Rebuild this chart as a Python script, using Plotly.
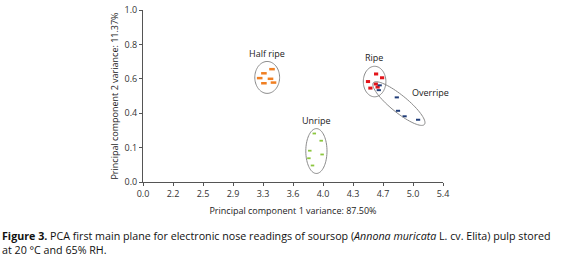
import numpy as np
import plotly.graph_objects as go

# Tick labels (evenly spaced on the original chart)
x_tick_labels = ["0.0", "2.2", "2.5", "2.9", "3.3", "3.6", "4.0", "4.3", "4.7", "5.0", "5.4"]
y_tick_labels = ["0.0", "0.1", "0.4", "0.6", "0.8", "1.0"]

# Point positions in tick-index units
half_x = [4.30, 4.03, 3.89, 4.25, 4.03, 4.35]
half_y = [3.28, 3.16, 3.02, 3.00, 2.87, 2.89]
unripe_x = [5.71, 5.94, 5.56, 5.97, 5.53, 5.65]
unripe_y = [1.41, 1.20, 0.91, 0.80, 0.69, 0.48]
ripe_x = [7.77, 7.50, 7.97, 7.76, 7.58, 7.82]
ripe_y = [3.14, 2.92, 3.03, 2.85, 2.73, 2.76]
over_x = [7.89, 7.86, 8.46, 8.50, 8.72, 9.17]
over_y = [2.81, 2.67, 2.46, 2.07, 1.91, 1.81]

series_names = ["Half ripe", "Unripe", "Ripe", "Overripe"]
series_colors = ["#f07f22", "#8cc63e", "#e3151b", "#1f3c78"]
label_x = [4.14, 5.77, 7.70, 9.58]
label_y = [3.75, 1.78, 3.62, 2.61]

# Group ellipses: center x, center y (index units), semi axes (px), angle (deg)
ell_cx = [4.14, 5.78, 7.72, 8.53]
ell_cy = [3.04, 0.90, 2.92, 2.28]
ell_a = [12.4, 10.6, 11.3, 33.0]
ell_b = [16.0, 22.5, 15.3, 8.5]
ell_ang = [0, 0, 0, -39.3]

W, H = 564, 257
ML, MR, MT, MB = 143, 121, 9.5, 75
pw, ph = W - ML - MR, H - MT - MB
XR, YR = 10, 5
sx, sy = pw / XR, ph / YR

fig = go.Figure()
groups = [(half_x, half_y), (unripe_x, unripe_y), (ripe_x, ripe_y), (over_x, over_y)]
msizes = [4, 2.5, 3, 3]
mwidths = [2.5, 1.8, 3, 2]
for (gx, gy), name, col, ms, mw in zip(groups, series_names, series_colors, msizes, mwidths):
    fig.add_trace(go.Scatter(
        x=gx, y=gy, mode="markers", name=name,
        marker=dict(symbol="line-ew", size=ms, line=dict(color=col, width=mw)),
        showlegend=False, hoverinfo="skip"))

for cx, cy, a, b, ang in zip(ell_cx, ell_cy, ell_a, ell_b, ell_ang):
    t = np.linspace(0, 2 * np.pi, 80)
    th = np.deg2rad(ang)
    dx = a * np.cos(t) * np.cos(th) - b * np.sin(t) * np.sin(th)
    dy = a * np.cos(t) * np.sin(th) + b * np.sin(t) * np.cos(th)
    xs = cx + dx / sx
    ys = cy + dy / sy
    path = "M " + " L ".join(f"{x:.4f},{y:.4f}" for x, y in zip(xs, ys)) + " Z"
    fig.add_shape(type="path", path=path, xref="x", yref="y",
                  line=dict(color="#8a8a8a", width=1))

for name, lx, ly in zip(series_names, label_x, label_y):
    fig.add_annotation(x=lx, y=ly, text=name, showarrow=False, xref="x", yref="y",
                       font=dict(size=9, color="#222222", family="Open Sans"))

caption = ("<b>Figure 3.</b> PCA first main plane for electronic nose readings of soursop "
           "(<i>Annona muricata</i> L. cv. Elita) pulp stored<br>at 20 °C and 65% RH.")
fig.add_annotation(x=-ML / pw, y=-(243 - MT - ph) / ph, xref="paper", yref="paper",
                   text=caption, showarrow=False, xanchor="left", yanchor="middle",
                   align="left", font=dict(size=10.7, color="#111111", family="Open Sans"))

fig.update_layout(
    width=W, height=H, margin=dict(l=ML, r=MR, t=MT, b=MB, autoexpand=False),
    paper_bgcolor="white", plot_bgcolor="white",
    font=dict(family="Open Sans", size=9, color="#333333"),
    xaxis=dict(range=[0, XR], tickvals=list(range(len(x_tick_labels))), ticktext=x_tick_labels,
               showgrid=False, zeroline=False, showline=True, linecolor="#555555", linewidth=1,
               ticks="outside", ticklen=3, tickcolor="#555555", automargin=False,
               title=dict(text="Principal component 1 variance: 87.50%", standoff=8,
                          font=dict(size=9, color="#222222"))),
    yaxis=dict(range=[0, YR], tickvals=list(range(len(y_tick_labels))), ticktext=y_tick_labels,
               showgrid=False, zeroline=False, showline=True, linecolor="#555555", linewidth=1,
               ticks="outside", ticklen=3, tickcolor="#555555", automargin=False,
               title=dict(text="Principal component 2 variance: 11.37%", standoff=4,
                          font=dict(size=9, color="#222222"))),
)
fig.write_html("out.html", config={"displayModeBar": False},
               post_script="document.body.style.margin='0';document.body.style.overflow='hidden';")
